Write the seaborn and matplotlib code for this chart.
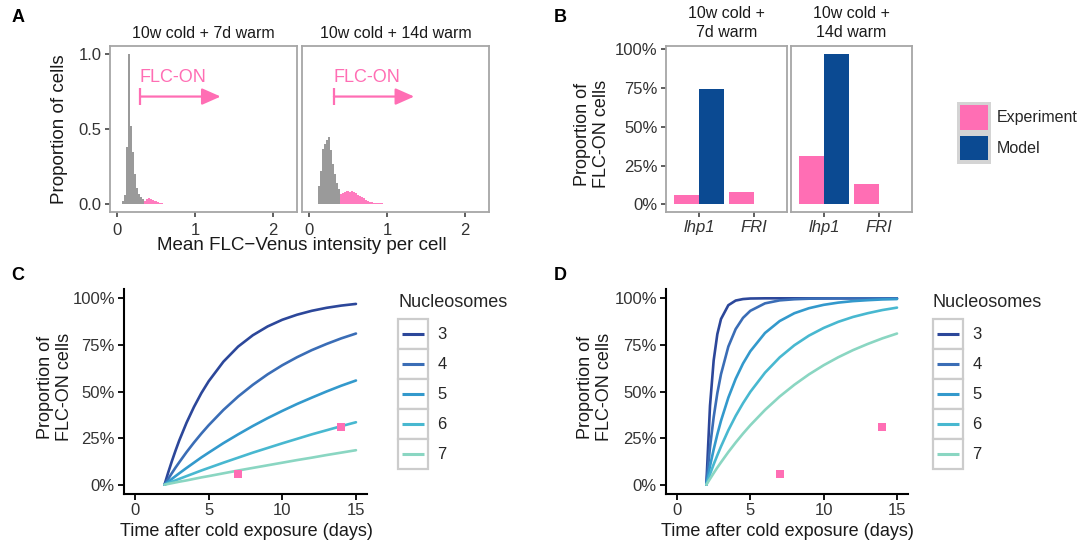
import numpy as np
import pandas as pd
import matplotlib
matplotlib.use("Agg")
import matplotlib.pyplot as plt
import seaborn as sns
from matplotlib.patches import Rectangle, Patch
from matplotlib.lines import Line2D
from matplotlib.legend_handler import HandlerBase

# ---------------- data ----------------
# Panel A: histogram of mean FLC-Venus intensity per cell (proportion of cells per bin)
hist_conditions = ["10w cold + 7d warm", "10w cold + 14d warm"]
hist_7d = [0.004, 0.004, 0.02, 0.06, 0.38, 1.0, 0.52, 0.35, 0.2, 0.11, 0.07, 0.05, 0.035,
           0.025, 0.035, 0.04, 0.035, 0.03, 0.025, 0.02, 0.015, 0.01, 0.008, 0.006, 0.005,
           0.005, 0.004, 0.004, 0.004, 0.004, 0.004, 0.004, 0.004, 0.004, 0.004, 0.004,
           0.004, 0.004, 0.004, 0.004, 0.004, 0.004, 0.004, 0.004, 0.004, 0.004, 0.004,
           0.004, 0.004, 0.004, 0.004, 0.004, 0.004]
hist_14d = [0.004, 0.004, 0.004, 0.004, 0.12, 0.22, 0.37, 0.40, 0.43, 0.45, 0.36, 0.27,
            0.2, 0.14, 0.10, 0.07, 0.075, 0.085, 0.09, 0.088, 0.085, 0.088, 0.08, 0.075,
            0.065, 0.055, 0.048, 0.04, 0.03, 0.022, 0.018, 0.016, 0.012, 0.01, 0.009, 0.008,
            0.007, 0.006, 0.005, 0.005, 0.004, 0.004, 0.004, 0.004, 0.004, 0.004, 0.004,
            0.004, 0.004, 0.004, 0.004, 0.004, 0.004]
on_threshold = [0.345, 0.395]
arrow_start = [0.30, 0.32]
arrow_end = [1.33, 1.35]

# Panel B: proportion of FLC-ON cells
bar_conditions = ["10w cold +\n7d warm", "10w cold +\n14d warm"]
genotypes = ["lhp1", "FRI"]
sources = ["Experiment", "Model"]
experiment_7d = [0.06, 0.08]
model_7d = [0.74, 0.0]
experiment_14d = [0.31, 0.13]
model_14d = [0.97, 0.0]

# Panels C & D: model curves, proportion FLC-ON vs time after cold
nucleosomes = [3, 4, 5, 6, 7]
time_days = [2, 2.25, 2.5, 2.75, 3, 3.5, 4, 4.5, 5, 6, 7, 8, 9, 10, 11, 12, 13, 14, 15]
C_curves = {
    3: [0, 0.065, 0.126, 0.183, 0.237, 0.333, 0.417, 0.491, 0.555, 0.660, 0.741, 0.802, 0.849, 0.885, 0.912, 0.933, 0.949, 0.961, 0.970],
    4: [0, 0.031, 0.062, 0.092, 0.120, 0.175, 0.226, 0.274, 0.319, 0.401, 0.473, 0.536, 0.592, 0.641, 0.684, 0.722, 0.755, 0.785, 0.811],
    5: [0, 0.016, 0.031, 0.046, 0.061, 0.090, 0.118, 0.146, 0.172, 0.223, 0.270, 0.315, 0.357, 0.396, 0.433, 0.467, 0.500, 0.531, 0.559],
    6: [0, 0.008, 0.016, 0.023, 0.031, 0.046, 0.061, 0.076, 0.090, 0.118, 0.145, 0.172, 0.197, 0.222, 0.246, 0.270, 0.292, 0.314, 0.335],
    7: [0, 0.004, 0.008, 0.012, 0.016, 0.023, 0.031, 0.039, 0.046, 0.061, 0.076, 0.090, 0.104, 0.118, 0.132, 0.145, 0.159, 0.172, 0.185],
}
D_curves = {
    3: [0, 0.423, 0.667, 0.808, 0.889, 0.963, 0.988, 0.996, 0.999, 1.0, 1.0, 1.0, 1.0, 1.0, 1.0, 1.0, 1.0, 1.0, 1.0],
    4: [0, 0.201, 0.362, 0.491, 0.593, 0.741, 0.835, 0.895, 0.933, 0.973, 0.989, 0.995, 0.998, 0.999, 1.0, 1.0, 1.0, 1.0, 1.0],
    5: [0, 0.100, 0.189, 0.270, 0.343, 0.467, 0.568, 0.650, 0.716, 0.814, 0.878, 0.920, 0.947, 0.965, 0.977, 0.985, 0.990, 0.994, 0.996],
    6: [0, 0.056, 0.109, 0.158, 0.205, 0.292, 0.369, 0.437, 0.498, 0.601, 0.683, 0.748, 0.800, 0.841, 0.874, 0.900, 0.920, 0.937, 0.950],
    7: [0, 0.031, 0.062, 0.092, 0.120, 0.175, 0.226, 0.274, 0.319, 0.401, 0.473, 0.536, 0.592, 0.641, 0.684, 0.722, 0.755, 0.785, 0.811],
}
exp_time = [7, 14]
exp_prop = [0.06, 0.31]

# ---------------- style ----------------
PINK = "#FF6EB4"
HIST_PINK = "#FF7CBF"
BLUE = "#0B4A92"
GRAY = "#9A9A9A"
FRAME = "#A6A6A6"
TXT = "#1A1A1A"
TICK = "#333333"
line_palette = ["#2C479A", "#3A6DB6", "#3399CC", "#48B8D0", "#8AD6C2"]

sns.set_theme(style="white")
plt.rcParams["font.family"] = ["Liberation Sans", "DejaVu Sans"]
plt.rcParams["axes.unicode_minus"] = True

W, H = 1082, 545
fig = plt.figure(figsize=(W / 100, H / 100), dpi=100)


def box(x0, y0, x1, y1):
    return [x0 / W, 1 - y1 / H, (x1 - x0) / W, (y1 - y0) / H]


class BoxedLine(HandlerBase):
    def create_artists(self, legend, orig, xd, yd, width, height, fontsize, trans):
        r = Rectangle((-xd, -yd), width, height, facecolor="white", edgecolor="#CCCCCC",
                      linewidth=1.6, transform=trans)
        y = -yd + height / 2
        ln = Line2D([-xd + 0.13 * width, -xd + 0.87 * width], [y, y], color=orig.get_color(),
                    linewidth=orig.get_linewidth(), transform=trans, solid_capstyle="butt")
        return [r, ln]


class BoxedPatch(HandlerBase):
    def create_artists(self, legend, orig, xd, yd, width, height, fontsize, trans):
        r = Rectangle((-xd, -yd), width, height, facecolor="#D4D4D4", edgecolor="none",
                      transform=trans)
        ins = 2.4
        r2 = Rectangle((-xd + ins, -yd + ins), width - 2 * ins, height - 2 * ins,
                       facecolor=orig.get_facecolor(), edgecolor="none", transform=trans)
        return [r, r2]


def frame_style(ax, left_ticks):
    for s in ax.spines.values():
        s.set_visible(True)
        s.set_color(FRAME)
        s.set_linewidth(1.3)
    ax.tick_params(axis="both", which="both", length=3.6, width=1.1, color=TICK,
                   labelcolor=TICK, direction="out", pad=2.5, bottom=True, left=left_ticks)


# ---------------- Panel A ----------------
edges = [float(e) for e in np.arange(0.02, 1.32 + 1e-9, 0.025)] + [2.2]
centers = (np.array(edges[:-1]) + np.array(edges[1:])) / 2
axA = [fig.add_axes(box(110, 46, 297, 212)), fig.add_axes(box(302, 46, 489, 212))]
for i, (ax, h, thr) in enumerate(zip(axA, [hist_7d, hist_14d], on_threshold)):
    h = np.asarray(h)
    dfh = pd.DataFrame({
        "intensity": centers,
        "on": np.where(centers >= thr, h, 0.004),
        "off": np.where((centers < thr) & (h > 0.005), h, 0.0),
    })
    sns.histplot(data=dfh, x="intensity", weights="on", bins=edges, element="step",
                 fill=True, color=HIST_PINK, alpha=1, linewidth=0, ax=ax)
    sns.histplot(data=dfh, x="intensity", weights="off", bins=edges, element="step",
                 fill=True, color=GRAY, alpha=1, linewidth=0, ax=ax)
    ax.set_xlim(-0.089, 2.309)
    ax.set_ylim(-0.05, 1.05)
    ax.set_xticks([0, 1, 2])
    ax.set_xticklabels(["0", "1", "2"])
    ax.set_xlabel("")
    ax.set_ylabel("")
    frame_style(ax, i == 0)
    ax.tick_params(labelsize=12)
    ax.tick_params(axis="x", pad=4)
    if i == 0:
        ax.set_yticks([0, 0.5, 1.0])
        ax.set_yticklabels(["0.0", "0.5", "1.0"])
    else:
        ax.set_yticks([])
    ax.text(0.5, 1.078, hist_conditions[i], transform=ax.transAxes, ha="center",
            va="center", fontsize=11.5, color=TXT)
    ay = 0.715
    ax.annotate("", xy=(arrow_end[i], ay), xytext=(arrow_start[i], ay),
                arrowprops=dict(arrowstyle="-|>,head_length=0.95,head_width=0.42",
                                color=PINK, lw=1.6, shrinkA=0, shrinkB=0))
    ax.plot([arrow_start[i], arrow_start[i]], [ay - 0.055, ay + 0.055], color=PINK, lw=1.6,
            solid_capstyle="butt")
    ax.text(arrow_start[i] - 0.01, 0.84, "FLC-ON", color=PINK, fontsize=13, ha="left",
            va="center")

fig.text(302 / W, 1 - 245 / H, "Mean FLC\u2212Venus intensity per cell", ha="center",
         va="center", fontsize=13.5, color=TXT)
fig.text(59 / W, 1 - 129 / H, "Proportion of cells", ha="center", va="center",
         rotation=90, fontsize=13.5, color=TXT)

# ---------------- Panel B ----------------
axB = [fig.add_axes(box(666, 46, 787, 212)), fig.add_axes(box(791, 46, 912, 212))]
for i, (ax, ev, mv) in enumerate(zip(axB, [experiment_7d, experiment_14d],
                                     [model_7d, model_14d])):
    df = pd.DataFrame({
        "genotype": genotypes * 2,
        "source": [sources[0]] * 2 + [sources[1]] * 2,
        "prop": list(ev) + list(mv),
    })
    sns.barplot(data=df, x="genotype", y="prop", hue="source", order=genotypes,
                hue_order=sources, palette=[PINK, BLUE], width=0.9, saturation=1,
                errorbar=None, linewidth=0, legend=False, ax=ax)
    ax.set_xlim(-0.6, 1.6)
    ax.set_ylim(-0.0485, 1.0185)
    ax.set_xlabel("")
    ax.set_ylabel("")
    frame_style(ax, i == 0)
    ax.set_xticks([0, 1])
    ax.set_xticklabels(genotypes, fontstyle="italic", fontsize=12)
    if i == 0:
        ax.set_yticks([0, 0.25, 0.5, 0.75, 1.0])
        ax.set_yticklabels(["0%", "25%", "50%", "75%", "100%"], fontsize=12)
    else:
        ax.set_yticks([])
    ax.text(0.5, 1.14, bar_conditions[i], transform=ax.transAxes, ha="center",
            va="center", fontsize=11.5, color=TXT, linespacing=1.3)

fig.text(592 / W, 1 - 134 / H, "Proportion of\nFLC-ON cells", ha="center", va="center",
         rotation=90, fontsize=13, color=TXT, linespacing=1.1)

fig.legend(handles=[Patch(facecolor=PINK), Patch(facecolor=BLUE)], labels=sources,
           handler_map={Patch: BoxedPatch()}, loc="upper left",
           bbox_to_anchor=(957 / W, 1 - 102 / H), frameon=False, fontsize=11.5,
           handlelength=2.12, handleheight=2.6, labelspacing=0.0, handletextpad=0.35,
           borderpad=0, borderaxespad=0)


# ---------------- Panels C & D ----------------
def curve_panel(rect, curves, ylabel_x, xlabel_x, leg_x):
    ax = fig.add_axes(rect)
    rows = []
    for n in nucleosomes:
        for t, p in zip(time_days, curves[n]):
            rows.append((t, p, str(n)))
    df = pd.DataFrame(rows, columns=["time", "prop", "nuc"])
    sns.lineplot(data=df, x="time", y="prop", hue="nuc",
                 hue_order=[str(n) for n in nucleosomes], palette=line_palette,
                 linewidth=1.9, legend=False, ax=ax)
    sns.scatterplot(x=exp_time, y=exp_prop, marker="s", color=PINK, s=38, linewidth=0,
                    ax=ax, zorder=5)
    ax.set_xlim(-0.75, 15.75)
    ax.set_ylim(-0.05, 1.05)
    ax.set_xticks([0, 5, 10, 15])
    ax.set_yticks([0, 0.25, 0.5, 0.75, 1.0])
    ax.set_yticklabels(["0%", "25%", "50%", "75%", "100%"])
    ax.set_xlabel("")
    ax.set_ylabel("")
    for s in ["top", "right"]:
        ax.spines[s].set_visible(False)
    for s in ["left", "bottom"]:
        ax.spines[s].set_visible(True)
        ax.spines[s].set_color("black")
        ax.spines[s].set_linewidth(1.5)
    ax.tick_params(axis="both", length=4, width=1.3, color="black", labelcolor=TICK,
                   labelsize=12, direction="out", pad=2.5, bottom=True, left=True)
    fig.text(xlabel_x / W, 1 - 532 / H, "Time after cold exposure (days)", ha="center",
             va="center", fontsize=13, color=TXT)
    fig.text(ylabel_x / W, 1 - 387 / H, "Proportion of\nFLC-ON cells", ha="center",
             va="center", rotation=90, fontsize=13, color=TXT, linespacing=1.1)
    handles = [Line2D([], [], color=c, linewidth=2.2) for c in line_palette]
    leg = ax.legend(handles=handles, labels=[str(n) for n in nucleosomes],
                    title="Nucleosomes", handler_map={Line2D: BoxedLine()}, loc="upper left",
                    bbox_to_anchor=(leg_x / W, 1 - 294 / H), bbox_transform=fig.transFigure,
                    frameon=False, fontsize=12, title_fontsize=13, handlelength=1.8,
                    handleheight=2.38, labelspacing=0.0, handletextpad=0.55, borderpad=0,
                    borderaxespad=0, alignment="left")
    try:
        leg._legend_box.sep = 6.0
    except Exception:
        pass
    return ax


curve_panel(box(124, 289, 367, 494), C_curves, 55, 246, 398)
curve_panel(box(666, 289, 908, 494), D_curves, 595, 787, 933)

# panel letters
for lab, x, y in [("A", 18, 17), ("B", 560, 17), ("C", 18, 276), ("D", 560, 276)]:
    fig.text(x / W, 1 - y / H, lab, ha="center", va="center", fontsize=13,
             fontweight="bold", color="black")

fig.savefig("out.png", dpi=100)
